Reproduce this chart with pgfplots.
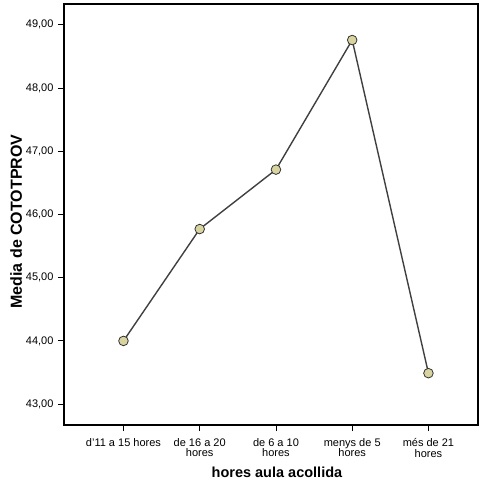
\documentclass[border=0pt]{standalone}
\usepackage{pgfplots}
\pgfplotsset{compat=1.18}
\usepackage{fontspec}
\setmainfont{Liberation Sans}
\definecolor{markfill}{HTML}{D8D4A0}
\definecolor{linec}{HTML}{404040}
\newcommand\xtfont{\fontsize{11bp}{10.5bp}\selectfont\lineskiplimit=-20pt\relax\lineskip=0pt\relax}
\begin{document}
\begin{tikzpicture}
\begin{axis}[
  scale only axis,
  width=414bp, height=421bp,
  xmin=-0.78, xmax=4.65,
  ymin=42.67, ymax=49.33,
  xtick={0,1,2,3,4},
  xticklabels={d'11 a 15 hores,{de 16 a 20\\hores},{de 6 a 10\\hores},{menys de 5\\hores},{més de 21\\hores}},
  ytick={43,44,45,46,47,48,49},
  tick align=outside,
  major tick length=6bp,
  tick style={black, line width=0.9bp},
  axis line style={black, line width=1.2bp},
  xtick pos=bottom, ytick pos=left,
  /pgf/number format/assume math mode=true,
  yticklabel style={/pgf/number format/.cd, fixed, fixed zerofill, precision=2, use comma, /tikz/.cd, font=\fontsize{11bp}{12bp}\selectfont, xshift=-1bp},
  xticklabel style={align=center, font=\xtfont, yshift=-4bp},
  xlabel={\textbf{hores aula acollida}},
  ylabel={\textbf{Media de COTOTPROV}},
  xlabel style={font=\fontsize{14.5bp}{16bp}\selectfont, yshift=-3bp, xshift=6bp},
  ylabel style={font=\fontsize{16bp}{18bp}\selectfont, yshift=-3bp, xshift=-7bp},
  clip=false,
]
\addplot[color=linec, line width=1.4bp, mark=*, mark size=4.8bp,
  mark options={fill=markfill, draw=black!80, line width=0.8bp}]
  coordinates {(0,44.00) (1,45.77) (2,46.71) (3,48.76) (4,43.49)};
\end{axis}
\pgfresetboundingbox
\path[use as bounding box] ([shift={(-64bp,-61bp)}]current axis.south west) rectangle ([shift={(0.5bp,4bp)}]current axis.north east);
\end{tikzpicture}
\end{document}
